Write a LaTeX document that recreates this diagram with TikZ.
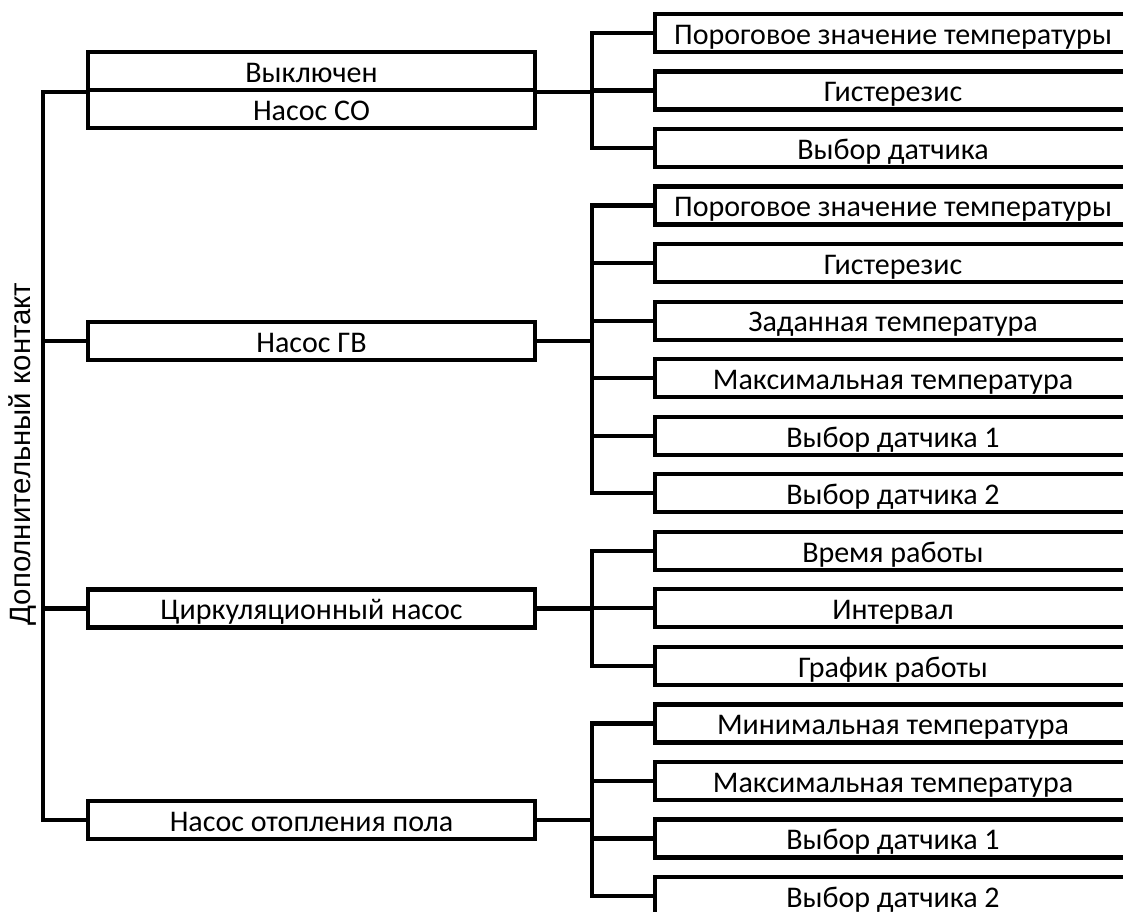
\documentclass[tikz,border=0pt]{standalone}
\usepackage{fontspec}
\setmainfont{Carlito}
\newfontfamily\sidefont{Liberation Sans}
\usepackage{tikz}
\usetikzlibrary{positioning,calc}

\begin{document}
\begin{tikzpicture}[x=.5pt,y=-.5pt,
    every node/.style={align=center,inner sep=0pt},
    link/.style={line width=2.15pt},
    parentbox/.style={draw,line width=2.15pt,minimum width=223.5pt,minimum height=19pt,text height=11.3pt,text depth=0pt,font=\fontsize{15}{18}\selectfont},
    childbox/.style={draw,line width=2.15pt,minimum width=238pt,minimum height=19pt,text height=11.3pt,text depth=0pt,font=\fontsize{15}{18}\selectfont}]
        \useasboundingbox (0,0) rectangle (1123,911);
        \clip (0,0) rectangle (1123,911);
        \coordinate (tk) at (43,0);
        \coordinate (br) at (592,0);
        \node[rotate=90,font=\sidefont\fontsize{14.7}{17}\selectfont] (side) at (23,454) {Дополнительный контакт};
        % parents
        \node[parentbox] (off) at (311.5,71) {Выключен};
        \node[parentbox] (co) at (311.5,109) {Насос СО};
        \node[parentbox] (gv) at (311.5,341) {Насос ГВ};
        \node[parentbox] (circ) at (311.5,608.5) {Циркуляционный насос};
        \node[parentbox] (floor) at (311.5,820) {Насос отопления пола};
        % children
        \foreach \t [count=\i] in {Пороговое значение температуры,Гистерезис,Выбор датчика,
            Пороговое значение температуры,Гистерезис,Заданная температура,Максимальная температура,Выбор датчика 1,Выбор датчика 2,
            Время работы,Интервал,График работы,
            Минимальная температура,Максимальная температура,Выбор датчика 1,Выбор датчика 2}
          \node[childbox] (c\i) at (893,{33+57.53*(\i-1)}) {\t};
        % trunk
        \draw[link] (off.south west) -- (off.south west -| tk) |- (floor.west);
        \draw[link] (gv.west) -- (gv.west -| tk);
        \draw[link] (circ.west) -- (circ.west -| tk);
        % branches
        \draw[link] (off.south east) -- (off.south east -| br);
        \foreach \p in {gv,circ,floor}
          \draw[link] (\p.east) -- (\p.east -| br);
        \foreach \a/\b in {1/3,4/9,10/12,13/16}
          \draw[link] (c\a.west) -- (c\a.west -| br) -- (c\b.west -| br) -- (c\b.west);
        \foreach \i in {2,5,6,7,8,11,14,15}
          \draw[link] (c\i.west) -- (c\i.west -| br);
      \end{tikzpicture}
\end{document}
